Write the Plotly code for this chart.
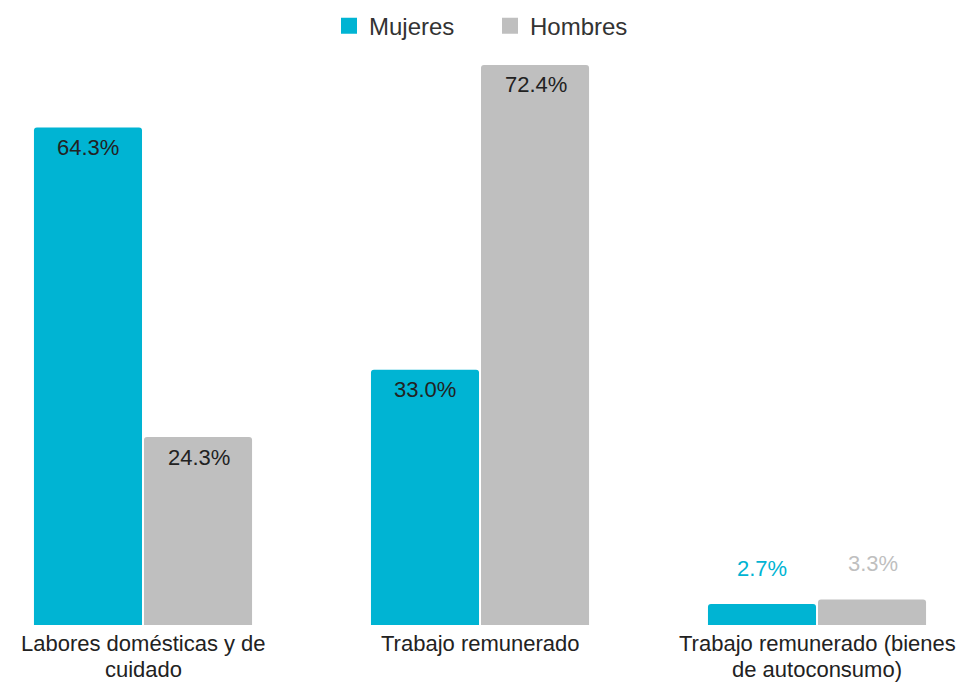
import plotly.graph_objects as go

categories = ["Labores domésticas y de<br>cuidado", "Trabajo remunerado", "Trabajo remunerado (bienes<br>de autoconsumo)"]
mujeres = [64.3, 33.0, 2.7]
hombres = [24.3, 72.4, 3.3]
series_names = ["Mujeres", "Hombres"]
colors = ["#00b4d3", "#bfbfbf"]

FONT = "Arial, 'Liberation Sans', sans-serif"

fig = go.Figure()
for name, vals, col in zip(series_names, [mujeres, hombres], colors):
    fig.add_trace(go.Bar(
        name=name, x=categories, y=vals, showlegend=False,
        marker=dict(color=col, line=dict(width=0), cornerradius=3),
    ))
    # legend entry with a larger square swatch
    fig.add_trace(go.Scatter(
        name=name, x=[None], y=[None], mode="markers",
        marker=dict(symbol="square", size=24, color=col), showlegend=True,
    ))

# data labels
for i, (name, vals, col) in enumerate(zip(series_names, [mujeres, hombres], colors)):
    xs = -55.5 if i == 0 else 55.5
    for c, v in zip(categories, vals):
        big = v > 10
        fig.add_annotation(
            x=c, y=v, xref="x", yref="y", text=f"{v:.1f}%", showarrow=False,
            xshift=xs, yshift=-20 if big else 36,
            font=dict(family=FONT, size=22, color="#222222" if big else col),
        )

# category labels (tight line spacing)
for c in categories:
    for k, line in enumerate(c.split("<br>")):
        fig.add_annotation(
            x=c, y=0, xref="x", yref="y", text=line, showarrow=False,
            yanchor="middle", yshift=-18 - 26 * k,
            font=dict(family=FONT, size=22, color="#222222"),
        )

fig.update_layout(
    width=964, height=675,
    margin=dict(l=0, r=0, t=50, b=58),
    paper_bgcolor="white", plot_bgcolor="white",
    font=dict(family=FONT, size=22, color="#222222"),
    barmode="group", bargap=0.347, bargroupgap=0.018,
    showlegend=True,
    legend=dict(orientation="h", x=0.5, xanchor="center", y=0.973, yanchor="middle",
                yref="container",
                font=dict(family=FONT, size=24, color="#333333"),
                itemsizing="trace", traceorder="normal",
                entrywidth=116, entrywidthmode="pixels"),
    xaxis=dict(range=[-0.4006, 2.4599], showgrid=False, showline=False, ticks="",
               showticklabels=False),
    yaxis=dict(range=[0, 73.3], visible=False),
)
fig.write_html("out.html")
